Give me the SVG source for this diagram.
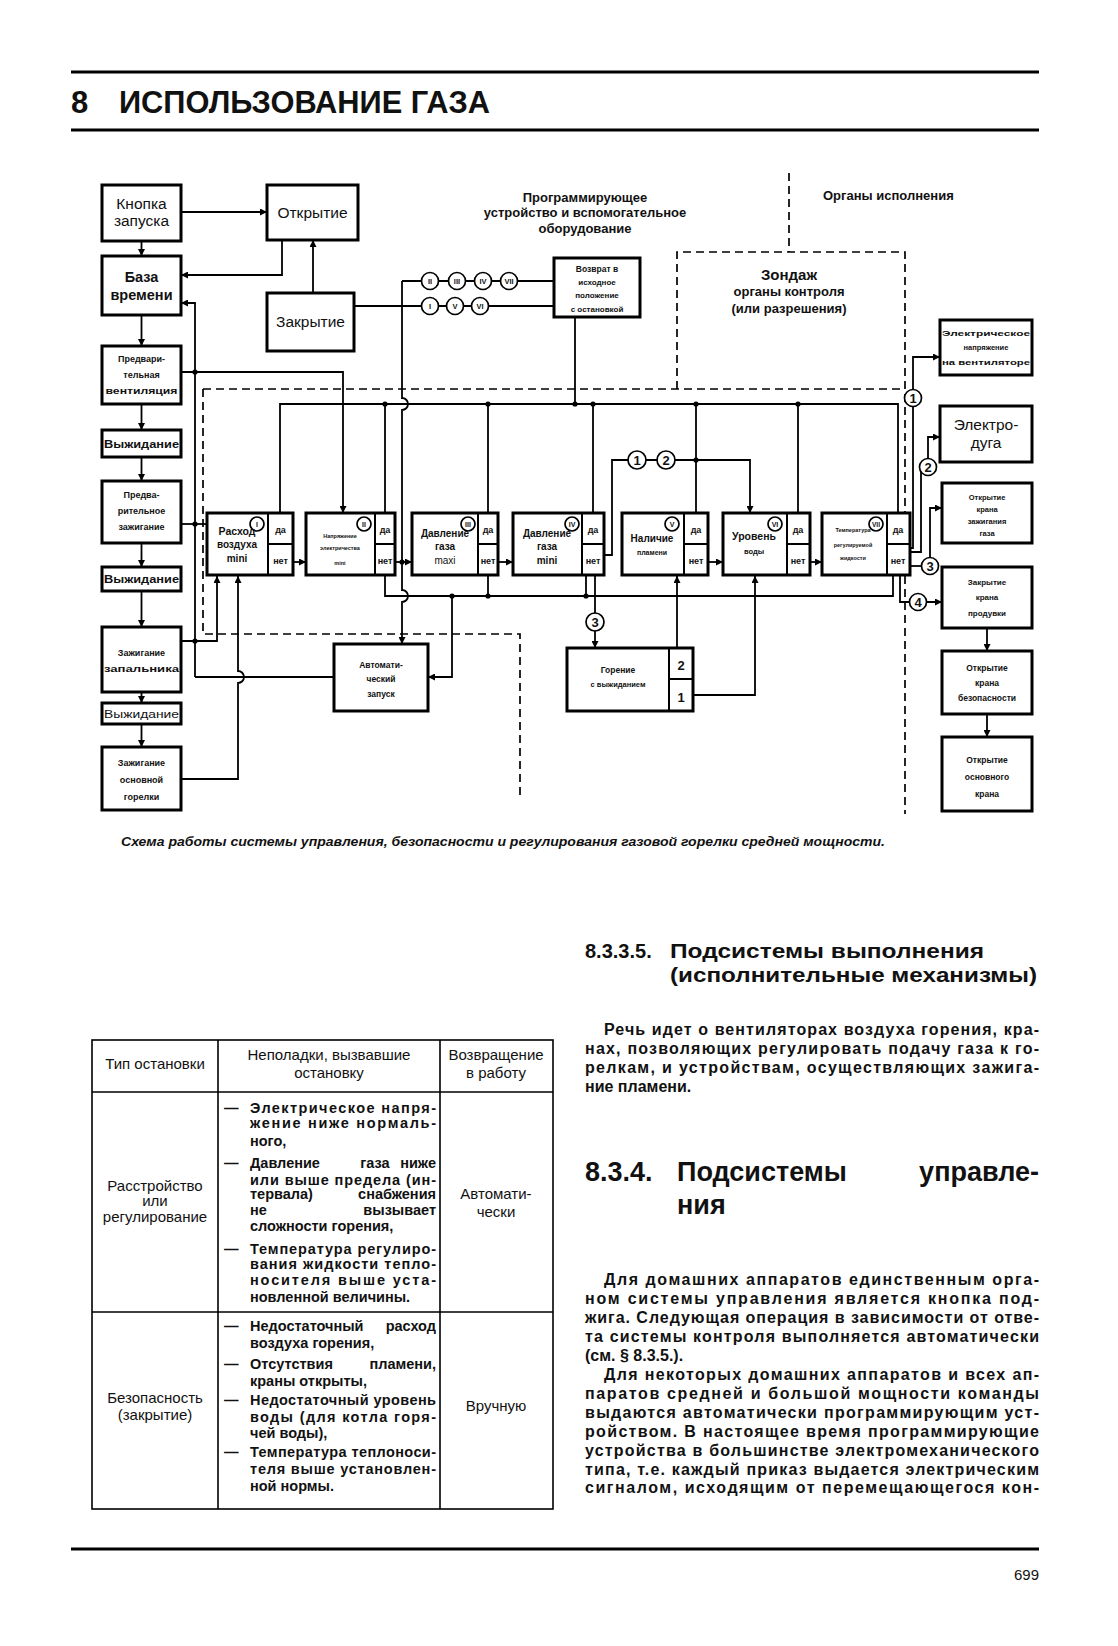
<svg xmlns="http://www.w3.org/2000/svg" width="1118" height="1646" viewBox="0 0 1118 1646">
<defs>
<style>
text{font-family:"Liberation Sans",Arial,sans-serif;fill:#111}
.bx{fill:#fff;stroke:#000;stroke-width:3}
.cell{fill:none;stroke:#000;stroke-width:2}
.ln{fill:none;stroke:#000;stroke-width:1.8}
.ds{fill:none;stroke:#000;stroke-width:1.7;stroke-dasharray:8 5}
.dot{fill:#000}
.cr{fill:#fff;stroke:#000;stroke-width:1.7}
.c{text-anchor:middle}
.e{text-anchor:end}
.b{font-weight:bold}
.i{font-style:italic}
.hr{stroke:#000;stroke-width:3}
</style>
<marker id="ah" viewBox="0 0 10 10" refX="10" refY="5" markerWidth="10" markerHeight="7" markerUnits="userSpaceOnUse" orient="auto"><path d="M0,0 L10,5 L0,10 z" fill="#000"/></marker>
</defs>
<rect width="1118" height="1646" fill="#fff"/>

<g id="header">
<line class="hr" x1="71" y1="72" x2="1039" y2="72"/>
<text x="71" y="113" class="b" font-size="31">8</text>
<text x="119" y="113" class="b" font-size="31" textLength="371" lengthAdjust="spacingAndGlyphs">ИСПОЛЬЗОВАНИЕ ГАЗА</text>
<line class="hr" x1="71" y1="130" x2="1039" y2="130"/>
</g>

<g id="frames">
<path class="ds" d="M789,173 V252"/>
<path class="ds" d="M677,389 V252 H905 V814"/>
<path class="ds" d="M203,389 H905"/>
<path class="ds" d="M203,389 V634 H520 V796"/>
</g>

<g id="labels">
<text x="585" y="202" class="c b" font-size="13">Программирующее</text>
<text x="585" y="217" class="c b" font-size="13">устройство и вспомогательное</text>
<text x="585" y="233" class="c b" font-size="13">оборудование</text>
<text x="823" y="200" class="b" font-size="13">Органы исполнения</text>
<text x="789" y="280" class="c b" font-size="15">Зондаж</text>
<text x="789" y="296" class="c b" font-size="13">органы контроля</text>
<text x="789" y="313" class="c b" font-size="13">(или разрешения)</text>
</g>

<g id="connectors">
<path class="ln" d="M181,212 H267" marker-end="url(#ah)"/>
<path class="ln" d="M141.5,241 V256" marker-end="url(#ah)"/>
<path class="ln" d="M282,240 V275 H181" marker-end="url(#ah)"/>
<path class="ln" d="M313,293 V240" marker-end="url(#ah)"/>
<path class="ln" d="M141.5,315 V346" marker-end="url(#ah)"/>
<path class="ln" d="M141.5,404 V430" marker-end="url(#ah)"/>
<path class="ln" d="M141.5,457 V481" marker-end="url(#ah)"/>
<path class="ln" d="M141.5,543 V567" marker-end="url(#ah)"/>
<path class="ln" d="M141.5,591 V627" marker-end="url(#ah)"/>
<path class="ln" d="M141.5,692 V703" marker-end="url(#ah)"/>
<path class="ln" d="M141.5,724 V747" marker-end="url(#ah)"/>
<path class="ln" d="M195,677 V303 H181" marker-end="url(#ah)"/>
<path class="ln" d="M181,372 H343 V513" marker-end="url(#ah)"/>
<path class="ln" d="M181,524 H207"/>
<path class="ln" d="M181,641 H217 V576" marker-end="url(#ah)"/>
<path class="ln" d="M181,779 H238 V683 A6,6 0 0 0 238,671 V576" marker-end="url(#ah)"/>
<path class="ln" d="M334,677 H195"/>
<path class="ln" d="M354,306 H554"/>
<path class="ln" d="M402,281 H554"/>
<path class="ln" d="M402,281 V398 A6,6 0 0 1 402,410 V590 A6,6 0 0 1 402,602 V644" marker-end="url(#ah)"/>
<path class="ln" d="M575,317 V404"/>
<path class="ln" d="M280,513 V404 H898 V513"/>
<path class="ln" d="M385,404 V513"/>
<path class="ln" d="M488,404 V513"/>
<path class="ln" d="M593,404 V513"/>
<path class="ln" d="M696,404 V513"/>
<path class="ln" d="M798,404 V513"/>
<path class="ln" d="M293,562 H306" marker-end="url(#ah)"/>
<path class="ln" d="M395,562 H412" marker-end="url(#ah)"/>
<path class="ln" d="M498,562 H513" marker-end="url(#ah)"/>
<path class="ln" d="M708,562 H723" marker-end="url(#ah)"/>
<path class="ln" d="M810,562 H822" marker-end="url(#ah)"/>
<path class="ln" d="M604,555 H612 V460 H750 V513" marker-end="url(#ah)"/>
<path class="ln" d="M385,575 V596 H893 V575"/>
<path class="ln" d="M488,575 V596"/>
<path class="ln" d="M586,575 V596"/>
<path class="ln" d="M452,596 V677 H428" marker-end="url(#ah)"/>
<path class="ln" d="M595,575 V648" marker-end="url(#ah)"/>
<path class="ln" d="M677,648 V576" marker-end="url(#ah)"/>
<path class="ln" d="M693,695 H755 V576" marker-end="url(#ah)"/>
<path class="ln" d="M910,548 H913 V357 H940" marker-end="url(#ah)"/>
<path class="ln" d="M910,552 H921 V470"/>
<path class="ln" d="M928,460 V437 H940" marker-end="url(#ah)"/>
<path class="ln" d="M910,566 H922"/>
<path class="ln" d="M930,560 V508 H942" marker-end="url(#ah)"/>
<path class="ln" d="M900,575 V602 H942" marker-end="url(#ah)"/>
<path class="ln" d="M987,628 V651" marker-end="url(#ah)"/>
<path class="ln" d="M987,714 V737" marker-end="url(#ah)"/>
<circle class="dot" cx="195" cy="372" r="2.6"/>
<circle class="dot" cx="195" cy="524" r="2.6"/>
<circle class="dot" cx="195" cy="641" r="2.6"/>
<circle class="dot" cx="385" cy="404" r="2.6"/>
<circle class="dot" cx="488" cy="404" r="2.6"/>
<circle class="dot" cx="575" cy="404" r="2.6"/>
<circle class="dot" cx="593" cy="404" r="2.6"/>
<circle class="dot" cx="696" cy="404" r="2.6"/>
<circle class="dot" cx="798" cy="404" r="2.6"/>
<circle class="dot" cx="696" cy="460" r="2.6"/>
<circle class="dot" cx="402" cy="562" r="2.6"/>
<circle class="dot" cx="452" cy="596" r="2.6"/>
<circle class="dot" cx="488" cy="596" r="2.6"/>
<circle class="dot" cx="586" cy="596" r="2.6"/>
</g>

<g id="markers" font-size="7.5" font-weight="bold">
<circle class="cr" cx="430" cy="281" r="8.5"/><text x="430" y="284" class="c">II</text>
<circle class="cr" cx="457" cy="281" r="8.5"/><text x="457" y="284" class="c">III</text>
<circle class="cr" cx="483" cy="281" r="8.5"/><text x="483" y="284" class="c">IV</text>
<circle class="cr" cx="509" cy="281" r="8.5"/><text x="509" y="284" class="c">VII</text>
<circle class="cr" cx="430" cy="306" r="8.5"/><text x="430" y="309" class="c">I</text>
<circle class="cr" cx="455" cy="306" r="8.5"/><text x="455" y="309" class="c">V</text>
<circle class="cr" cx="480" cy="306" r="8.5"/><text x="480" y="309" class="c">VI</text>
<circle class="cr" cx="637" cy="460" r="9"/><text x="637" y="465" class="c" font-size="13">1</text>
<circle class="cr" cx="666" cy="460" r="9"/><text x="666" y="465" class="c" font-size="13">2</text>
<circle class="cr" cx="595" cy="622" r="9"/><text x="595" y="627" class="c" font-size="13">3</text>
<circle class="cr" cx="913" cy="398" r="8.5"/><text x="913" y="403" class="c" font-size="13">1</text>
<circle class="cr" cx="928" cy="467" r="8.5"/><text x="928" y="472" class="c" font-size="13">2</text>
<circle class="cr" cx="930" cy="566" r="8.5"/><text x="930" y="571" class="c" font-size="13">3</text>
<circle class="cr" cx="918" cy="602" r="8.5"/><text x="918" y="607" class="c" font-size="13">4</text>
</g>

<g id="n-knopka"><rect class="bx" x="102" y="185" width="79" height="56"/><text x="141.5" y="209" class="c" font-size="15.5">Кнопка</text><text x="141.5" y="226" class="c" font-size="15.5">запуска</text></g>
<g id="n-otkrytie"><rect class="bx" x="267" y="185" width="91" height="55"/><text x="312.5" y="218" class="c" font-size="15.5">Открытие</text></g>
<g id="n-baza"><rect class="bx" x="102" y="256" width="79" height="59"/><text x="141.5" y="282" class="c b" font-size="14.5">База</text><text x="141.5" y="300" class="c b" font-size="14.5">времени</text></g>
<g id="n-zakrytie"><rect class="bx" x="267" y="293" width="87" height="58"/><text x="310.5" y="327" class="c" font-size="15.5">Закрытие</text></g>
<g id="n-vozvrat"><rect class="bx" x="554" y="258" width="86" height="59"/><text x="597" y="272" class="c b" font-size="8.5">Возврат в</text><text x="597" y="285" class="c b" font-size="8">исходное</text><text x="597" y="298" class="c b" font-size="8">положение</text><text x="597" y="312" class="c b" font-size="8">с остановкой</text></g>
<g id="n-predvent"><rect class="bx" x="102" y="346" width="79" height="58"/><text x="141.5" y="362" class="c b" font-size="9">Предвари-</text><text x="141.5" y="378" class="c b" font-size="9">тельная</text><text x="141.5" y="394" class="c b" font-size="9" textLength="72" lengthAdjust="spacingAndGlyphs">вентиляция</text></g>
<g id="n-vyzh1"><rect class="bx" x="102" y="430" width="79" height="27"/><text x="104" y="448" class="b" font-size="10.5" textLength="75" lengthAdjust="spacingAndGlyphs">Выжидание</text></g>
<g id="n-predzazh"><rect class="bx" x="102" y="481" width="79" height="62"/><text x="141.5" y="498" class="c b" font-size="9">Предва-</text><text x="141.5" y="514" class="c b" font-size="9">рительное</text><text x="141.5" y="530" class="c b" font-size="9">зажигание</text></g>
<g id="n-vyzh2"><rect class="bx" x="102" y="567" width="79" height="24"/><text x="104" y="583" class="b" font-size="10.5" textLength="75" lengthAdjust="spacingAndGlyphs">Выжидание</text></g>
<g id="n-zapal"><rect class="bx" x="102" y="627" width="79" height="65"/><text x="141.5" y="656" class="c b" font-size="9">Зажигание</text><text x="141.5" y="672" class="c b" font-size="9" textLength="75" lengthAdjust="spacingAndGlyphs">запальника</text></g>
<g id="n-vyzh3"><rect class="bx" x="102" y="703" width="79" height="21"/><text x="104" y="718" font-size="10.5" textLength="75" lengthAdjust="spacingAndGlyphs">Выжидание</text></g>
<g id="n-osngor"><rect class="bx" x="102" y="747" width="79" height="63"/><text x="141.5" y="766" class="c b" font-size="9">Зажигание</text><text x="141.5" y="783" class="c b" font-size="9">основной</text><text x="141.5" y="800" class="c b" font-size="9">горелки</text></g>
<g id="n-avto"><rect class="bx" x="334" y="644" width="94" height="67"/><text x="381" y="668" class="c b" font-size="8.5">Автомати-</text><text x="381" y="682" class="c b" font-size="8.5">ческий</text><text x="381" y="697" class="c b" font-size="8.5">запуск</text></g>
<g id="n-gorenie"><rect class="bx" x="567" y="648" width="126" height="63"/><path class="cell" d="M669,648 V711 M669,679 H693"/><text x="618" y="673" class="c b" font-size="8.5">Горение</text><text x="618" y="687" class="c b" font-size="7.5">с выжиданием</text><text x="681" y="670" class="c b" font-size="13">2</text><text x="681" y="702" class="c b" font-size="13">1</text></g>

<g id="n-I"><rect class="bx" x="207" y="513" width="86" height="62"/><path class="cell" d="M268,513 V575 M268,544 H293"/><circle class="cr" cx="257" cy="524" r="7"/><text x="257" y="527" class="c b" font-size="7">I</text><text x="237" y="535" class="c b" font-size="10.5">Расход</text><text x="237" y="548" class="c b" font-size="10">воздуха</text><text x="237" y="562" class="c b" font-size="10">mini</text><text x="280.5" y="533" class="c b" font-size="9">да</text><text x="280.5" y="564" class="c b" font-size="9">нет</text></g>
<g id="n-II"><rect class="bx" x="306" y="513" width="89" height="62"/><path class="cell" d="M375,513 V575 M375,544 H395"/><circle class="cr" cx="364" cy="524" r="7"/><text x="364" y="527" class="c b" font-size="7">II</text><text x="340" y="538" class="c b" font-size="5.5">Напряжение</text><text x="340" y="550" class="c b" font-size="5.5">электричества</text><text x="340" y="565" class="c b" font-size="5.5">mini</text><text x="385" y="533" class="c b" font-size="9">да</text><text x="385" y="564" class="c b" font-size="9">нет</text></g>
<g id="n-III"><rect class="bx" x="412" y="513" width="86" height="62"/><path class="cell" d="M478,513 V575 M478,544 H498"/><circle class="cr" cx="468" cy="524" r="7"/><text x="468" y="527" class="c b" font-size="7">III</text><text x="445" y="537" class="c b" font-size="10">Давление</text><text x="445" y="550" class="c b" font-size="10">газа</text><text x="445" y="564" class="c" font-size="10">maxi</text><text x="488" y="533" class="c b" font-size="9">да</text><text x="488" y="564" class="c b" font-size="9">нет</text></g>
<g id="n-IV"><rect class="bx" x="513" y="513" width="91" height="62"/><path class="cell" d="M582,513 V575 M582,544 H604"/><circle class="cr" cx="572" cy="524" r="7"/><text x="572" y="527" class="c b" font-size="7">IV</text><text x="547" y="537" class="c b" font-size="10">Давление</text><text x="547" y="550" class="c b" font-size="10">газа</text><text x="547" y="564" class="c b" font-size="10">mini</text><text x="593" y="533" class="c b" font-size="9">да</text><text x="593" y="564" class="c b" font-size="9">нет</text></g>
<g id="n-V"><rect class="bx" x="622" y="513" width="86" height="62"/><path class="cell" d="M684,513 V575 M684,544 H708"/><circle class="cr" cx="672" cy="524" r="7"/><text x="672" y="527" class="c b" font-size="7">V</text><text x="652" y="542" class="c b" font-size="10">Наличие</text><text x="652" y="555" class="c b" font-size="7">пламени</text><text x="696" y="533" class="c b" font-size="9">да</text><text x="696" y="564" class="c b" font-size="9">нет</text></g>
<g id="n-VI"><rect class="bx" x="723" y="513" width="87" height="62"/><path class="cell" d="M787,513 V575 M787,544 H810"/><circle class="cr" cx="775" cy="524" r="7"/><text x="775" y="527" class="c b" font-size="7">VI</text><text x="754" y="540" class="c b" font-size="10.5">Уровень</text><text x="754" y="554" class="c b" font-size="7.5">воды</text><text x="798" y="533" class="c b" font-size="9">да</text><text x="798" y="564" class="c b" font-size="9">нет</text></g>
<g id="n-VII"><rect class="bx" x="822" y="513" width="88" height="62"/><path class="cell" d="M887,513 V575 M887,544 H910"/><circle class="cr" cx="876" cy="524" r="7"/><text x="876" y="527" class="c b" font-size="6.5">VII</text><text x="853" y="532" class="c b" font-size="5.5">Температура</text><text x="853" y="547" class="c b" font-size="5.5">регулируемой</text><text x="853" y="560" class="c b" font-size="5.5">жидкости</text><text x="898" y="533" class="c b" font-size="9">да</text><text x="898" y="564" class="c b" font-size="9">нет</text></g>

<g id="n-elnapr"><rect class="bx" x="940" y="320" width="92" height="55"/><text x="986" y="336" class="c b" font-size="8" textLength="88" lengthAdjust="spacingAndGlyphs">Электрическое</text><text x="986" y="350" class="c b" font-size="7.5">напряжение</text><text x="986" y="365" class="c b" font-size="8" textLength="88" lengthAdjust="spacingAndGlyphs">на вентиляторе</text></g>
<g id="n-duga"><rect class="bx" x="940" y="406" width="92" height="56"/><text x="986" y="430" class="c" font-size="15.5">Электро-</text><text x="986" y="448" class="c" font-size="15.5">дуга</text></g>
<g id="n-zazhgaz"><rect class="bx" x="942" y="483" width="90" height="60"/><text x="987" y="500" class="c b" font-size="7.5">Открытие</text><text x="987" y="512" class="c b" font-size="7.5">крана</text><text x="987" y="524" class="c b" font-size="7.5">зажигания</text><text x="987" y="536" class="c b" font-size="7.5">газа</text></g>
<g id="n-produvka"><rect class="bx" x="942" y="567" width="90" height="61"/><text x="987" y="585" class="c b" font-size="8">Закрытие</text><text x="987" y="600" class="c b" font-size="8">крана</text><text x="987" y="616" class="c b" font-size="8">продувки</text></g>
<g id="n-bezop"><rect class="bx" x="942" y="651" width="90" height="63"/><text x="987" y="671" class="c b" font-size="8.5">Открытие</text><text x="987" y="686" class="c b" font-size="8.5">крана</text><text x="987" y="701" class="c b" font-size="8.5">безопасности</text></g>
<g id="n-osnkran"><rect class="bx" x="942" y="737" width="90" height="74"/><text x="987" y="763" class="c b" font-size="8.5">Открытие</text><text x="987" y="780" class="c b" font-size="8.5">основного</text><text x="987" y="797" class="c b" font-size="8.5">крана</text></g>

<text x="121" y="846" class="i b" font-size="12.5" textLength="764" lengthAdjust="spacingAndGlyphs">Схема работы системы управления, безопасности и регулирования газовой горелки средней мощности.</text>

<g id="table" font-size="14.5" font-weight="bold">
<rect x="92" y="1040" width="461" height="469" fill="none" stroke="#000" stroke-width="1.6"/>
<path d="M218,1040 V1509 M440,1040 V1509 M92,1092 H553 M92,1312 H553" stroke="#000" stroke-width="1.6" fill="none"/>
<text x="155" y="1069" class="c" font-weight="normal" font-size="15">Тип остановки</text>
<text x="329" y="1060" class="c" font-weight="normal" font-size="15">Неполадки, вызвавшие</text>
<text x="329" y="1078" class="c" font-weight="normal" font-size="15">остановку</text>
<text x="496" y="1060" class="c" font-weight="normal" font-size="15">Возвращение</text>
<text x="496" y="1078" class="c" font-weight="normal" font-size="15">в работу</text>
<text x="155" y="1191" class="c" font-weight="normal" font-size="15">Расстройство</text>
<text x="155" y="1206" class="c" font-weight="normal" font-size="15">или</text>
<text x="155" y="1222" class="c" font-weight="normal" font-size="15">регулирование</text>
<text x="496" y="1199" class="c" font-weight="normal" font-size="15">Автомати-</text>
<text x="496" y="1217" class="c" font-weight="normal" font-size="15">чески</text>
<text x="224" y="1113">—</text><text x="250" y="1113" textLength="186" lengthAdjust="spacing">Электрическое напря-</text>
<text x="250" y="1128" textLength="186" lengthAdjust="spacing">жение ниже нормаль-</text>
<text x="250" y="1146">ного,</text>
<text x="224" y="1168">—</text><text x="250" y="1168">Давление</text><text x="375" y="1168" class="c">газа</text><text x="436" y="1168" class="e">ниже</text>
<text x="250" y="1185" textLength="186" lengthAdjust="spacing">или выше предела (ин-</text>
<text x="250" y="1199">тервала)</text><text x="436" y="1199" class="e">снабжения</text>
<text x="250" y="1215">не</text><text x="436" y="1215" class="e">вызывает</text>
<text x="250" y="1231">сложности горения,</text>
<text x="224" y="1254">—</text><text x="250" y="1254" textLength="186" lengthAdjust="spacing">Температура регулиро-</text>
<text x="250" y="1269" textLength="186" lengthAdjust="spacing">вания жидкости тепло-</text>
<text x="250" y="1285" textLength="186" lengthAdjust="spacing">носителя выше уста-</text>
<text x="250" y="1302">новленной величины.</text>
<text x="155" y="1403" class="c" font-weight="normal" font-size="15">Безопасность</text>
<text x="155" y="1420" class="c" font-weight="normal" font-size="15">(закрытие)</text>
<text x="496" y="1411" class="c" font-weight="normal" font-size="15">Вручную</text>
<text x="224" y="1331">—</text><text x="250" y="1331">Недостаточный</text><text x="436" y="1331" class="e">расход</text>
<text x="250" y="1348">воздуха горения,</text>
<text x="224" y="1369">—</text><text x="250" y="1369">Отсутствия</text><text x="436" y="1369" class="e">пламени,</text>
<text x="250" y="1386">краны открыты,</text>
<text x="224" y="1405">—</text><text x="250" y="1405" textLength="186" lengthAdjust="spacing">Недостаточный уровень</text>
<text x="250" y="1422" textLength="186" lengthAdjust="spacing">воды (для котла горя-</text>
<text x="250" y="1438">чей воды),</text>
<text x="224" y="1457">—</text><text x="250" y="1457" textLength="186" lengthAdjust="spacing">Температура теплоноси-</text>
<text x="250" y="1474" textLength="186" lengthAdjust="spacing">теля выше установлен-</text>
<text x="250" y="1491">ной нормы.</text>
</g>

<g id="text" font-size="16" font-weight="bold">
<text x="585" y="958" font-size="20">8.3.3.5.</text>
<text x="670" y="958" font-size="20" textLength="314" lengthAdjust="spacingAndGlyphs">Подсистемы выполнения</text>
<text x="670" y="982" font-size="20" textLength="367" lengthAdjust="spacingAndGlyphs">(исполнительные механизмы)</text>
<text x="604" y="1035" textLength="435" lengthAdjust="spacing">Речь идет о вентиляторах воздуха горения, кра-</text>
<text x="585" y="1054" textLength="454" lengthAdjust="spacing">нах, позволяющих регулировать подачу газа  к го-</text>
<text x="585" y="1073" textLength="454" lengthAdjust="spacing">релкам, и устройствам, осуществляющих зажига-</text>
<text x="585" y="1092">ние пламени.</text>
<text x="585" y="1181" font-size="27">8.3.4.</text>
<text x="677" y="1181" font-size="27">Подсистемы</text>
<text x="1039" y="1181" class="e" font-size="27">управле-</text>
<text x="677" y="1214" font-size="27">ния</text>
<text x="604" y="1285" textLength="435" lengthAdjust="spacing">Для домашних аппаратов единственным орга-</text>
<text x="585" y="1304" textLength="454" lengthAdjust="spacing">ном системы управления является кнопка под-</text>
<text x="585" y="1323" textLength="454" lengthAdjust="spacing">жига. Следующая операция в зависимости от отве-</text>
<text x="585" y="1342" textLength="454" lengthAdjust="spacing">та системы контроля выполняется автоматически</text>
<text x="585" y="1361">(см. § 8.3.5.).</text>
<text x="604" y="1380" textLength="435" lengthAdjust="spacing">Для некоторых домашних аппаратов и всех ап-</text>
<text x="585" y="1399" textLength="454" lengthAdjust="spacing">паратов средней и большой мощности команды</text>
<text x="585" y="1418" textLength="454" lengthAdjust="spacing">выдаются автоматически программирующим уст-</text>
<text x="585" y="1437" textLength="454" lengthAdjust="spacing">ройством. В настоящее время программирующие</text>
<text x="585" y="1456" textLength="454" lengthAdjust="spacing">устройства в большинстве электромеханического</text>
<text x="585" y="1475" textLength="454" lengthAdjust="spacing">типа, т.е. каждый приказ выдается электрическим</text>
<text x="585" y="1493" textLength="454" lengthAdjust="spacing">сигналом, исходящим  от  перемещающегося кон-</text>
</g>

<g id="footer">
<line class="hr" x1="71" y1="1549" x2="1039" y2="1549"/>
<text x="1039" y="1580" class="e" font-size="15">699</text>
</g>
</svg>
